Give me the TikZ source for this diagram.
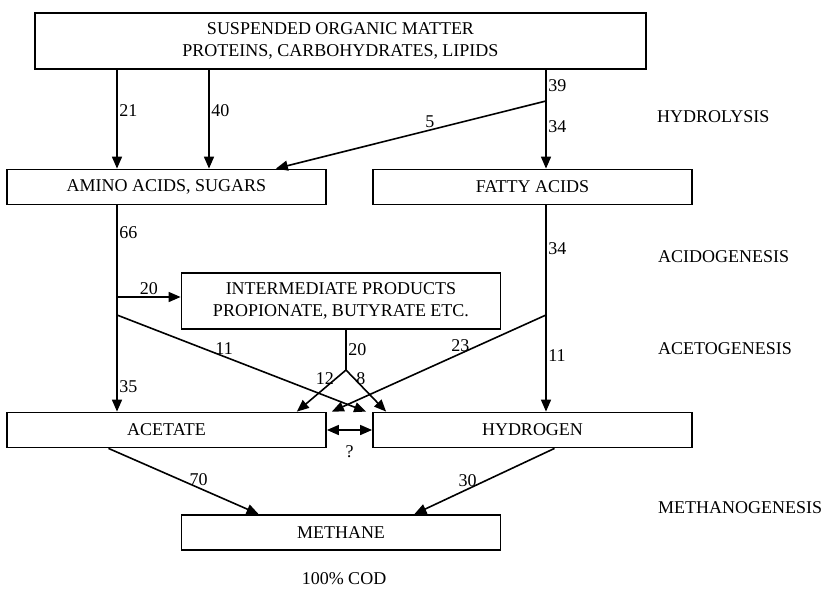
\documentclass[tikz,border=0pt]{standalone}
\usepackage{fontspec}
\setmainfont{Liberation Serif}
\usetikzlibrary{arrows.meta,positioning}
\tikzset{>={Triangle[length=12pt,width=10pt]}}
\tikzset{box/.style={draw, line width=1.8pt, inner sep=0pt, align=center, minimum width=319pt, minimum height=35pt}}
\tikzset{flow/.style={->, line width=1.6pt}, lane/.style={line width=1.6pt}}
\tikzset{num/.style={inner sep=1.5pt}, stage/.style={anchor=west, inner sep=0pt}}

\begin{document}
\begin{tikzpicture}[x=1pt, y=-1pt, node distance=366pt, font=\fontsize{18}{22}\selectfont]
		\useasboundingbox (0,0) rectangle (830,597);
		\node(top)[box, minimum width=611pt, minimum height=56pt] at (340.5,41){SUSPENDED ORGANIC MATTER\\PROTEINS, CARBOHYDRATES, LIPIDS};
		\node(amino)[box] at (166.5,187){AMINO ACIDS, SUGARS};
		\node(fatty)[box, right of=amino]{FATTY ACIDS};
		\node(inter)[box, minimum height=56pt] at (341,301){INTERMEDIATE PRODUCTS\\PROPIONATE, BUTYRATE ETC.};
		\node(acetate)[box, below of=amino, node distance=243pt]{ACETATE};
		\node(hydrogen)[box, right of=acetate]{HYDROGEN};
		\node(methane)[box, below of=inter, node distance=231.5pt]{METHANE};
		\node(cod) at (344,579){100\% COD};
		\node(hydro)[stage] at (657,117){HYDROLYSIS};
		\node(acido)[stage] at (658,257){ACIDOGENESIS};
		\node(aceto)[stage] at (658,349){ACETOGENESIS};
		\node(metha)[stage] at (658,508){METHANOGENESIS};
		\coordinate(laneA) at (117,0);
		\coordinate(laneB) at (209,0);
		\coordinate(laneF) at (546,0);
		\coordinate(laneI) at (346,0);
		\coordinate(fork) at (546,101);
		\coordinate(jB) at (117,297);
		\coordinate(jA) at (117,315);
		\coordinate(jF) at (546,315);
		\coordinate(jI) at (346,370);
		\draw[flow](top.south -| laneA) to node[num, right, pos=0.41]{21}(amino.north -| laneA);
		\draw[flow](top.south -| laneB) to node[num, right, pos=0.41]{40}(amino.north -| laneB);
		\draw[lane](top.south -| laneF) to node[num, right]{39}(fork);
		\draw[flow](fork) to node[num, right, pos=0.38]{34}(fatty.north -| laneF);
		\draw[flow](fork) to node[num, above, pos=0.43]{5}([xshift=-51pt]amino.north east);
		\draw[lane](amino.south -| laneA) to node[num, right, pos=0.25]{66}(jA);
		\draw[flow](jA) to node[num, right, pos=0.74]{35}(acetate.north -| laneA);
		\draw[flow](jB) to node[num, above]{20}(inter.west |- jB);
		\draw[flow](jA) to node[num, above, pos=0.43]{11}([xshift=-6pt]hydrogen.north west);
		\draw[lane](fatty.south -| laneF) to node[num, right, pos=0.39]{34}(jF);
		\draw[flow](jF) to node[num, right, pos=0.42]{11}(hydrogen.north -| laneF);
		\draw[flow](jF) to node[num, above, pos=0.4]{23}([xshift=5pt]acetate.north east);
		\draw[lane](inter.south -| laneI) to node[num, right]{20}(jI);
		\draw[flow](jI) to node[num, left, pos=0.2]{12}([xshift=-30pt]acetate.north east);
		\draw[flow](jI) to node[num, right, pos=0.2]{8}([xshift=14pt]hydrogen.north west);
		\draw[<->, line width=1.6pt](acetate.east) to node[num, below=13pt]{?}(hydrogen.west);
		\draw[flow]([xshift=-58pt]acetate.south) to node[num, above, pos=0.6]{70}([xshift=78pt]methane.north west);
		\draw[flow]([xshift=22pt]hydrogen.south) to node[num, above, pos=0.62]{30}([xshift=-87pt]methane.north east);
	\end{tikzpicture}
\end{document}
